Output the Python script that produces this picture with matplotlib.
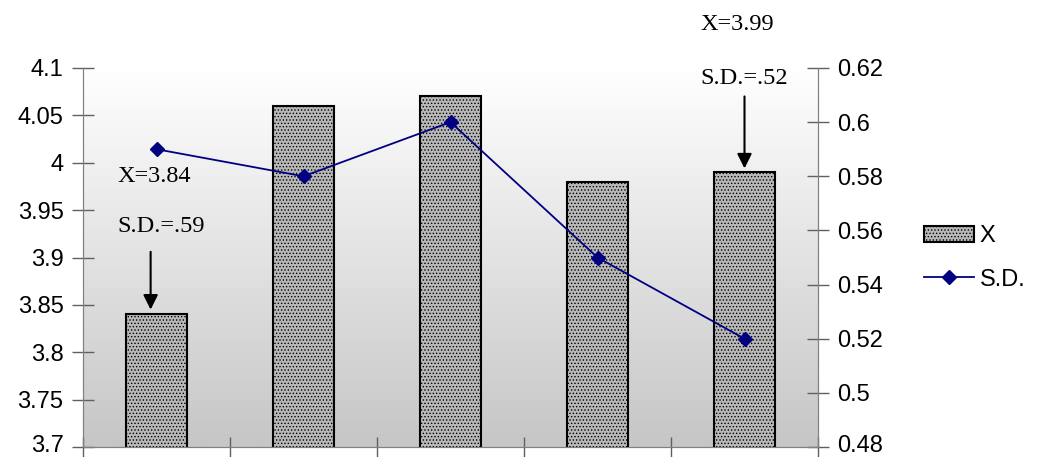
import numpy as np
import matplotlib
matplotlib.use("Agg")
import matplotlib.pyplot as plt
from matplotlib.colors import LinearSegmentedColormap
from matplotlib.ticker import FuncFormatter
import matplotlib.transforms as mtrans

categories = ["1", "2", "3", "4", "5"]
mean_x = [3.84, 4.06, 4.07, 3.98, 3.99]
sd_vals = [0.59, 0.58, 0.60, 0.55, 0.52]
left_ticks = [3.7, 3.75, 3.8, 3.85, 3.9, 3.95, 4.0, 4.05, 4.1]
right_ticks = [0.48, 0.5, 0.52, 0.54, 0.56, 0.58, 0.6, 0.62]

plt.rcParams['hatch.color'] = '#7a7a7a'
plt.rcParams['hatch.linewidth'] = 0.6

fig = plt.figure(figsize=(10.37, 4.57), dpi=100)
ax = fig.add_axes([83/1037, 10/457, 735/1037, 379/457])
ax.set_facecolor('none')

# gradient background (white at top, gray at bottom)
grad = np.linspace(0.0, 1.0, 256).reshape(-1, 1)
ax.imshow(grad, extent=[0, 1, 0, 1], transform=ax.transAxes, aspect='auto', origin='upper',
          cmap=LinearSegmentedColormap.from_list('g', ['#ffffff', '#c6c6c6']),
          vmin=0, vmax=1, zorder=0)

x = np.arange(len(categories))
ax.bar(x, mean_x, width=0.41, bottom=0, color='#b8b8b8', edgecolor='black',
       linewidth=1.5, hatch='.....', zorder=2, label='X')
ax.set_xlim(-0.5, len(categories) - 0.5)
ax.set_ylim(3.7, 4.1)
ax.set_yticks(left_ticks)
ax.yaxis.set_major_formatter(FuncFormatter(lambda v, p: ('%g' % round(v, 2))))
ax.set_xticks(np.arange(-0.5, len(categories) - 0.5 + 0.01, 1.0))
ax.set_xticklabels([])

ax2 = ax.twinx()
ax2.plot(x, sd_vals, color='#000080', marker='D', markersize=7, linewidth=1.3,
         zorder=3, label='S.D.')
ax2.set_ylim(0.48, 0.62)
ax2.set_yticks(right_ticks)
ax2.yaxis.set_major_formatter(FuncFormatter(lambda v, p: ('%g' % round(v, 2))))

for a in (ax, ax2):
    for s in a.spines.values():
        s.set_color('#808080')
    a.spines['top'].set_visible(False)
    a.tick_params(axis='both', direction='inout', length=16, width=1, color='#606060',
                  labelsize=17, pad=6)
ax.tick_params(axis='x', length=14)
ax.set_zorder(1)
ax2.set_zorder(2)
ax2.patch.set_visible(False)
for lab in ax.get_yticklabels() + ax2.get_yticklabels():
    lab.set_fontfamily('Liberation Sans')

# nudge the lowest tick labels up so they stay inside the canvas
shift = mtrans.ScaledTranslation(0, 4/100, fig.dpi_scale_trans)
t0 = ax.yaxis.get_major_ticks()[0]
t0.label1.set_transform(t0.label1.get_transform() + shift)
t1 = ax2.yaxis.get_major_ticks()[0]
t1.label2.set_transform(t1.label2.get_transform() + shift)

serif = 'Liberation Serif'
fs = 17.5
fig.text(117/1037, 1 - 177/457, 'X=3.84', fontsize=fs, family=serif, va='center', ha='left')
fig.text(117/1037, 1 - 226/457, 'S.D.=.59', fontsize=fs, family=serif, va='center', ha='left')
fig.text(700/1037, 1 - 25/457, 'X=3.99', fontsize=fs, family=serif, va='center', ha='left')
fig.text(700/1037, 1 - 78/457, 'S.D.=.52', fontsize=fs, family=serif, va='center', ha='left')

arrow = dict(arrowstyle='-|>', mutation_scale=22, lw=1.5, color='black', shrinkA=0, shrinkB=0)
ax.annotate('', xy=(0 - 0.04, mean_x[0] + 0.005), xytext=(0 - 0.04, mean_x[0] + 0.066),
            arrowprops=arrow, zorder=5)
ax.annotate('', xy=(4, mean_x[4] + 0.004), xytext=(4, mean_x[4] + 0.08),
            arrowprops=arrow, zorder=5)

h1, l1 = ax.get_legend_handles_labels()
h2, l2 = ax2.get_legend_handles_labels()
leg = fig.legend(h1 + h2, l1 + l2, loc='center left', bbox_to_anchor=(903/1037, 1 - 258/457),
                 frameon=False, prop={'family': 'Liberation Sans', 'size': 17},
                 handlelength=2.1, handletextpad=0.25, labelspacing=0.9)

fig.savefig('out.png', dpi=100)
